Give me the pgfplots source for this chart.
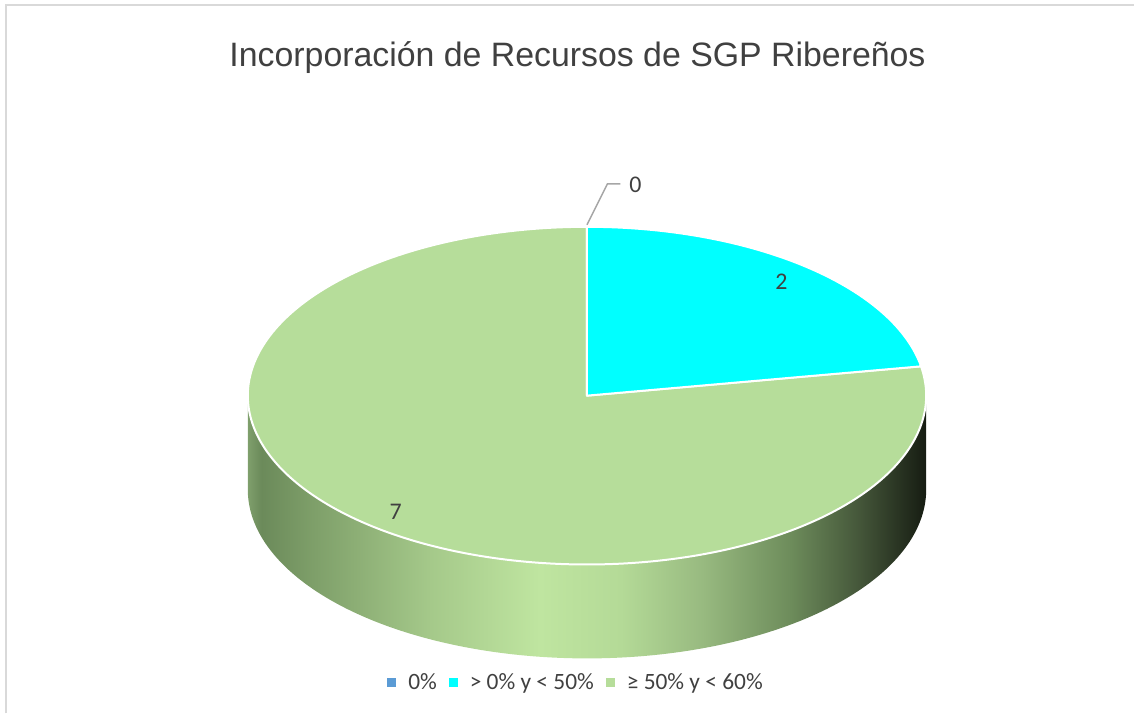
\documentclass[border=0pt]{standalone}
\usepackage{pgfplots}
\pgfplotsset{compat=1.18}
\usepackage{pgfplotstable}
\usepackage{fontspec}
\setmainfont{Carlito}
\newfontfamily\titlefont{Liberation Sans}
\definecolor{txt}{HTML}{404040}
\definecolor{pieblue}{HTML}{5B9BD5}
\definecolor{piecyan}{HTML}{00FFFF}
\definecolor{piegreen}{HTML}{B6DD9A}
\definecolor{framegray}{HTML}{D9D9D9}
\definecolor{leadgray}{HTML}{A6A6A6}
\definecolor{s0}{HTML}{7F9F6C}
\definecolor{s1}{HTML}{6B8A5A}
\definecolor{s2}{HTML}{7FA06A}
\definecolor{s3}{HTML}{A5C98A}
\definecolor{s4}{HTML}{BFE5A0}
\definecolor{s5}{HTML}{B4DA97}
\definecolor{s6}{HTML}{98BA80}
\definecolor{s7}{HTML}{6D8C5B}
\definecolor{s8}{HTML}{45573A}
\definecolor{s9}{HTML}{161C12}
\pgfdeclarehorizontalshading{pieside}{100bp}{color(0bp)=(s0); color(25bp)=(s0); color(26bp)=(s1); color(30bp)=(s2); color(38.5bp)=(s3); color(46.5bp)=(s4); color(52.5bp)=(s5); color(58.5bp)=(s6); color(65bp)=(s7); color(70bp)=(s8); color(75bp)=(s9); color(100bp)=(s9)}

\pgfplotstableread{
label value
a 0
b 2
c 7
}\piedata
\pgfplotstablegetelem{0}{value}\of\piedata \let\vA\pgfplotsretval
\pgfplotstablegetelem{1}{value}\of\piedata \let\vB\pgfplotsretval
\pgfplotstablegetelem{2}{value}\of\piedata \let\vC\pgfplotsretval
\pgfmathsetmacro\tot{\vA+\vB+\vC}
\pgfmathsetmacro\aB{90-360*\vA/\tot}
\pgfmathsetmacro\aC{90-360*(\vA+\vB)/\tot}
\pgfmathsetmacro\aD{90-360*(\vA+\vB+\vC)/\tot}

\begin{document}
\begin{tikzpicture}
\begin{axis}[
  width=1135bp, height=714bp, scale only axis,
  xmin=0, xmax=1135, ymin=0, ymax=714,
  hide axis, clip=false,
  legend image code/.code={\fill[#1, draw=none] (0bp,-4.5bp) rectangle (9bp,4.5bp);},
  legend style={at={(axis cs:575.5,31)}, anchor=center, draw=none, fill=none,
    font=\fontsize{23.5}{28}\selectfont, text=txt, legend columns=-1,
    nodes={inner sep=0pt},
    /tikz/every odd column/.append style={column sep=12bp},
    /tikz/every even column/.append style={column sep=12bp}},
]
% frame
\draw[framegray, line width=2bp] (axis cs:6,0) -- (axis cs:6,709) -- (axis cs:1135,709);
% side
\addplot[forget plot, shading=pieside, draw=none, domain=0:2, samples=401]
  ({587.5+339.5*cos(180+180*min(x,2-x))}, {318+169*sin(180+180*min(x,2-x))-94*(x>1)});
% green sector
\addplot[forget plot, fill=piegreen, draw=white, line width=2bp, line join=round, domain=\aD:\aC, samples=240]
  ({587.5+339.5*cos(x)}, {318+169*sin(x)}) -- (axis cs:587.5,318) -- cycle;
% cyan sector
\addplot[forget plot, fill=piecyan, draw=white, line width=2bp, line join=round, domain=\aC:\aB, samples=80]
  ({587.5+339.5*cos(x)}, {318+169*sin(x)}) -- (axis cs:587.5,318) -- cycle;
% leader line for zero slice
\addplot[forget plot, leadgray, line width=1.5bp] coordinates {(587.5,489) (608,530) (621,530)};
\node[text=txt, font=\fontsize{24}{28}\selectfont] at (axis cs:636,529) {0};
\node[text=txt, font=\fontsize{24}{28}\selectfont] at (axis cs:782,432) {2};
\node[text=txt, font=\fontsize{24}{28}\selectfont] at (axis cs:396,202) {7};
% title
\node[text=txt, font=\titlefont\fontsize{34}{40}\selectfont, anchor=base] at (axis cs:578,647) {Incorporación de Recursos de SGP Ribereños};
% legend
\addlegendimage{fill=pieblue}
\addlegendentry{0\%}
\addlegendimage{fill=piecyan}
\addlegendentry{> 0\% y < 50\%}
\addlegendimage{fill=piegreen}
\addlegendentry{≥ 50\% y < 60\%}
\path (axis cs:0,0) rectangle (axis cs:1135,714);
\end{axis}
\end{tikzpicture}
\end{document}
